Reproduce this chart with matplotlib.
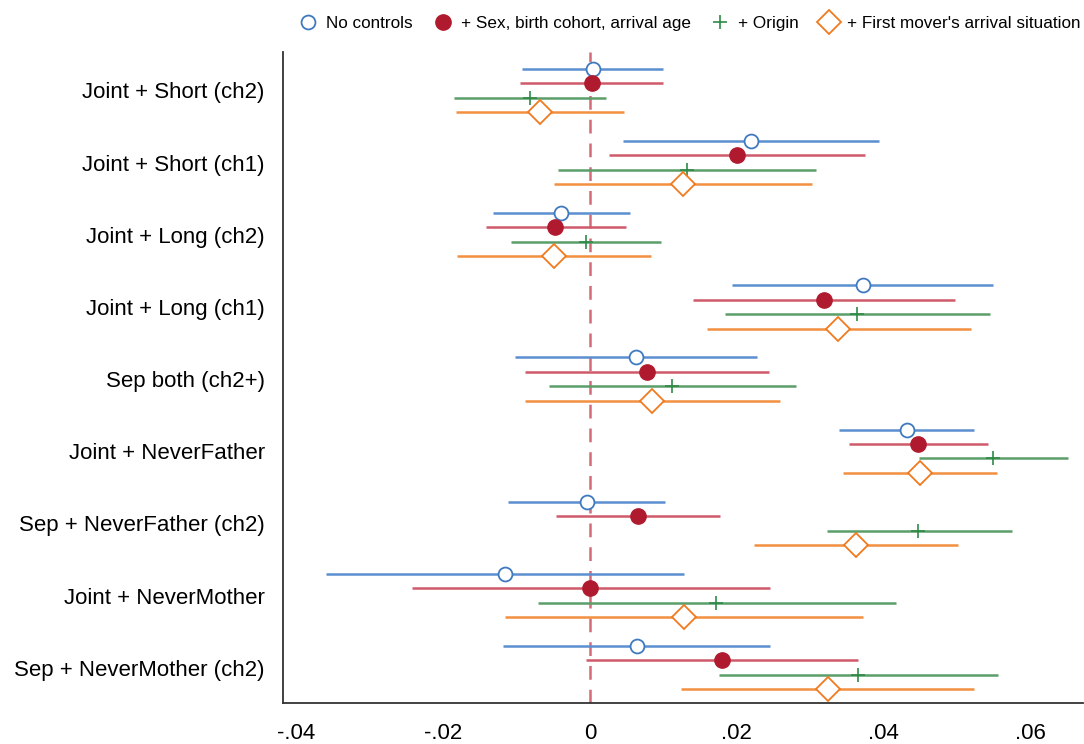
import matplotlib
matplotlib.use("Agg")
import matplotlib.pyplot as plt
import numpy as np

plt.rcParams['font.family'] = ['Liberation Sans', 'DejaVu Sans']

categories = ["Joint + Short (ch2)", "Joint + Short (ch1)", "Joint + Long (ch2)", "Joint + Long (ch1)",
              "Sep both (ch2+)", "Joint + NeverFather", "Sep + NeverFather (ch2)",
              "Joint + NeverMother", "Sep + NeverMother (ch2)"]

series_names = ["No controls", "+ Sex, birth cohort, arrival age", "+ Origin",
                "+ First mover's arrival situation"]

# point estimates per series (rows in category order)
est_none = [0.0004, 0.0219, -0.0040, 0.0372, 0.0062, 0.0431, -0.0004, -0.0116, 0.0064]
lo_none = [-0.0093, 0.0045, -0.0132, 0.0193, -0.0102, 0.0339, -0.0112, -0.0360, -0.0119]
hi_none = [0.0099, 0.0394, 0.0054, 0.0549, 0.0227, 0.0523, 0.0102, 0.0128, 0.0245]

est_sex = [0.0003, 0.0200, -0.0048, 0.0319, 0.0078, 0.0447, 0.0065, 0.0000, 0.0180]
lo_sex = [-0.0095, 0.0026, -0.0142, 0.0140, -0.0088, 0.0353, -0.0046, -0.0242, -0.0005]
hi_sex = [0.0099, 0.0375, 0.0049, 0.0497, 0.0244, 0.0542, 0.0177, 0.0245, 0.0365]

est_origin = [-0.0082, 0.0132, -0.0005, 0.0364, 0.0112, 0.0549, 0.0447, 0.0172, 0.0365]
lo_origin = [-0.0185, -0.0044, -0.0108, 0.0184, -0.0056, 0.0448, 0.0322, -0.0071, 0.0176]
hi_origin = [0.0022, 0.0308, 0.0097, 0.0544, 0.0280, 0.0651, 0.0574, 0.0417, 0.0556]

est_first = [-0.0068, 0.0127, -0.0049, 0.0338, 0.0085, 0.0449, 0.0362, 0.0128, 0.0324]
lo_first = [-0.0183, -0.0049, -0.0181, 0.0159, -0.0088, 0.0344, 0.0223, -0.0116, 0.0124]
hi_first = [0.0046, 0.0302, 0.0083, 0.0519, 0.0259, 0.0554, 0.0501, 0.0372, 0.0523]

xticks = [-0.04, -0.02, 0, 0.02, 0.04, 0.06]
xticklabels = ["-.04", "-.02", "0", ".02", ".04", ".06"]

fig = plt.figure(figsize=(10.84, 7.44), dpi=100)
ax = fig.add_axes([0.261, 0.055, 0.738, 0.875])

ypos = np.arange(1, len(categories) + 1)
offsets = [-0.3, -0.1, 0.1, 0.3]
line_colors = ["#5b8fcf", "#cf5a6a", "#5a9e6a", "#f29040"]
styles = [
    dict(marker='o', ms=10, mfc='white', mec='#3f7ac0', mew=1.3),
    dict(marker='o', ms=11, mfc='#b01a2e', mec='#b01a2e', mew=1.0),
    dict(marker='+', ms=10, mec='#2e8a48', mew=1.2),
    dict(marker='D', ms=12, mfc='white', mec='#f07a1e', mew=1.3),
]
data = [(est_none, lo_none, hi_none), (est_sex, lo_sex, hi_sex),
        (est_origin, lo_origin, hi_origin), (est_first, lo_first, hi_first)]

ax.axvline(0, color='#d46a76', lw=1.8, ls=(0, (5.5, 4)), zorder=1)

handles = []
for k, (est, lo, hi) in enumerate(data):
    y = ypos + offsets[k]
    ax.hlines(y, lo, hi, color=line_colors[k], lw=1.8, zorder=2)
    ax.plot(est, y, ls='none', zorder=3, **styles[k])
for k in range(4):
    h, = ax.plot([], [], ls='none', **styles[k])
    handles.append(h)

ax.set_ylim(9.49, 0.47)
ax.set_xlim(-0.0418, 0.0671)
ax.set_yticks(ypos)
ax.set_yticklabels(categories, fontsize=16)
ax.set_xticks(xticks)
ax.set_xticklabels(xticklabels, fontsize=16)
ax.tick_params(axis='y', length=0, pad=13)
ax.tick_params(axis='x', length=0, pad=14)
for s in ['top', 'right']:
    ax.spines[s].set_visible(False)
for s in ['left', 'bottom']:
    ax.spines[s].set_linewidth(1.3)
    ax.spines[s].set_color('#333333')

fig.legend(handles, series_names, loc='center right', bbox_to_anchor=(1.003, 0.968), ncol=4,
           frameon=False, fontsize=12.3, handletextpad=0.4, columnspacing=1.1,
           handlelength=1.3, borderaxespad=0)

fig.savefig("out.png", dpi=100)
